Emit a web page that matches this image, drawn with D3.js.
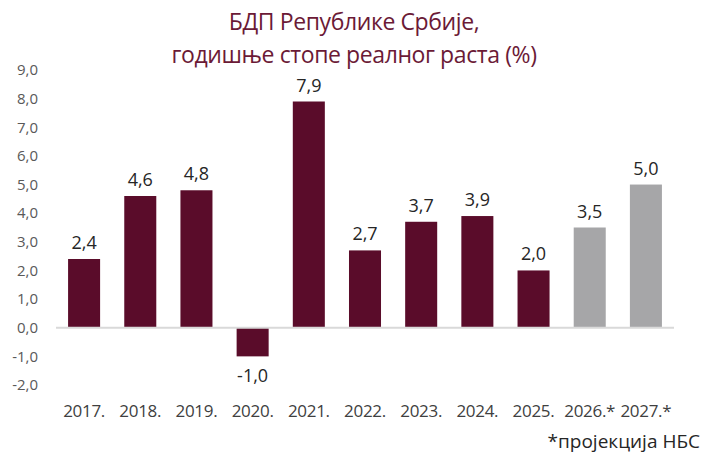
<!DOCTYPE html>
<html>
<head>
<meta charset="utf-8">
<script src="https://cdn.jsdelivr.net/npm/d3@7"></script>
<style>
  body { margin: 0; background: #fff; }
  text { font-family: "Open Sans", sans-serif; }
</style>
</head>
<body>
<div id="chart"></div>
<script>
const years = ["2017.", "2018.", "2019.", "2020.", "2021.", "2022.", "2023.", "2024.", "2025.", "2026.*", "2027.*"];
const growth = [2.4, 4.6, 4.8, -1.0, 7.9, 2.7, 3.7, 3.9, 2.0, 3.5, 5.0];
const projected = [false, false, false, false, false, false, false, false, false, true, true];
const yTicks = [-2, -1, 0, 1, 2, 3, 4, 5, 6, 7, 8, 9];

const width = 703, height = 455;
const svg = d3.select("#chart").append("svg")
  .attr("width", width).attr("height", height);

const x = d3.scaleBand().domain(years).range([56, 674]).paddingInner(0.43).paddingOuter(0.215);
const y = d3.scaleLinear().domain([-2, 9]).range([385, 70]);

const fmt = (v) => v.toFixed(1).replace(".", ",");

// title
svg.append("text")
  .attr("x", 354).attr("y", 30)
  .attr("text-anchor", "middle")
  .attr("fill", "#6b1a36")
  .attr("font-size", 23)
  .attr("letter-spacing", -0.4)
  .text("БДП Републике Србије,");
svg.append("text")
  .attr("x", 354).attr("y", 63)
  .attr("text-anchor", "middle")
  .attr("fill", "#6b1a36")
  .attr("font-size", 23)
  .attr("letter-spacing", -0.4)
  .text("годишње стопе реалног раста (%)");

// y axis labels
svg.append("g").selectAll("text")
  .data(yTicks)
  .join("text")
  .attr("x", 38)
  .attr("y", (d) => y(d))
  .attr("dy", "0.35em")
  .attr("text-anchor", "end")
  .attr("fill", "#595959")
  .attr("font-size", 15)
  .text(fmt);

// bars
svg.append("g").selectAll("rect")
  .data(growth)
  .join("rect")
  .attr("x", (d, i) => x(years[i]))
  .attr("width", x.bandwidth())
  .attr("y", (d) => y(Math.max(0, d)))
  .attr("height", (d) => Math.abs(y(d) - y(0)))
  .attr("fill", (d, i) => projected[i] ? "#a6a6a8" : "#5a0c2a");

// zero line
svg.append("line")
  .attr("x1", 56).attr("x2", 674)
  .attr("y1", y(0)).attr("y2", y(0))
  .attr("stroke", "#d9d9d9")
  .attr("stroke-width", 2);

// value labels
svg.append("g").selectAll("text")
  .data(growth)
  .join("text")
  .attr("x", (d, i) => x(years[i]) + x.bandwidth() / 2)
  .attr("y", (d) => d >= 0 ? y(d) - 10 : y(d) + 26)
  .attr("text-anchor", "middle")
  .attr("fill", "#262626")
  .attr("font-size", 18)
  .text(fmt);

// x labels
svg.append("g").selectAll("text")
  .data(years)
  .join("text")
  .attr("x", (d) => x(d) + x.bandwidth() / 2)
  .attr("y", 417)
  .attr("text-anchor", "middle")
  .attr("fill", "#404040")
  .attr("font-size", 17)
  .attr("letter-spacing", -0.3)
  .text((d) => d);

// footnote
svg.append("text")
  .attr("x", 700).attr("y", 448)
  .attr("text-anchor", "end")
  .attr("fill", "#262626")
  .attr("font-size", 19)
  .text("*пројекција НБС");
</script>
</body>
</html>
